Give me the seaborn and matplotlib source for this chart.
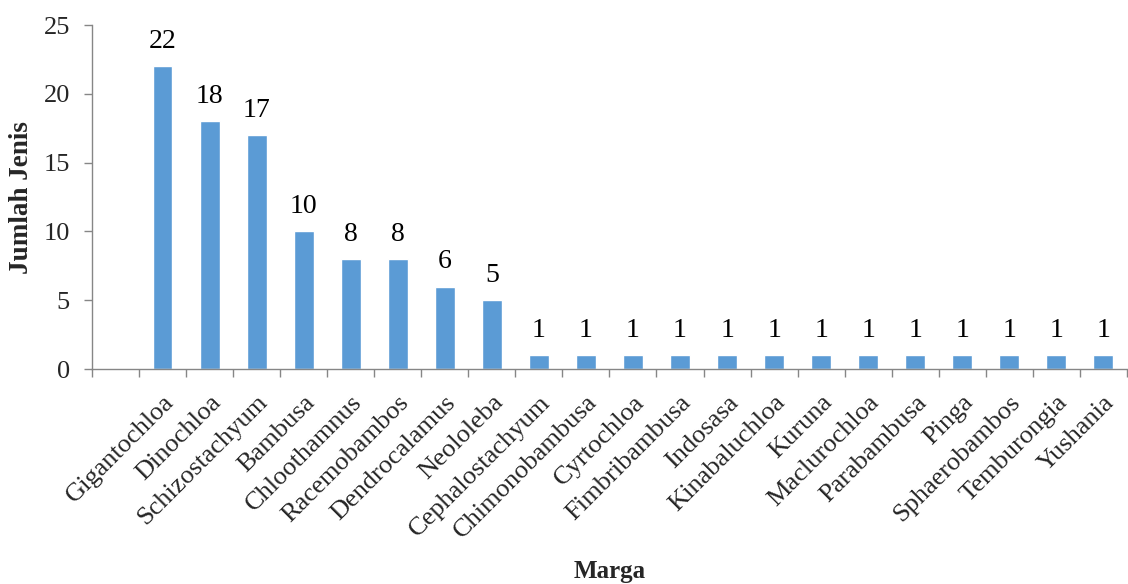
import matplotlib
matplotlib.use("Agg")
import matplotlib.pyplot as plt
import seaborn as sns
import pandas as pd
from matplotlib.ticker import FixedLocator

genera = ["Gigantochloa", "Dinochloa", "Schizostachyum", "Bambusa", "Chloothamnus",
          "Racemobambos", "Dendrocalamus", "Neololeba", "Cephalostachyum",
          "Chimonobambusa", "Cyrtochloa", "Fimbribambusa", "Indosasa",
          "Kinabaluchloa", "Kuruna", "Maclurochloa", "Parabambusa", "Pinga",
          "Sphaerobambos", "Temburongia", "Yushania"]
species_count = [22, 18, 17, 10, 8, 8, 6, 5, 1, 1, 1, 1, 1, 1, 1, 1, 1, 1, 1, 1, 1]
y_ticks = [0, 5, 10, 15, 20, 25]

df = pd.DataFrame({"Marga": genera, "Jumlah": species_count})

sns.set_style("white")
plt.rcParams["font.family"] = ["Liberation Serif", "DejaVu Serif"]

fig = plt.figure(figsize=(11.28, 5.84), dpi=100)
ax = fig.add_axes([0.0816, 0.368, 0.9174, 0.589])

sns.barplot(data=df, x="Marga", y="Jumlah", color="#5B9BD5", width=0.42,
            saturation=1, ax=ax)

n = len(genera)
ax.set_xlim(-1.5, n - 0.5)
ax.set_ylim(0, 25)
ax.set_yticks(y_ticks)

for i, v in enumerate(species_count):
    ax.annotate(str(v), (i, v), xytext=(0, 9), textcoords="offset points",
                ha="center", va="bottom", fontsize=20, color="black")

# category boundaries carry the tick marks; labels sit at bar centres
ax.xaxis.set_minor_locator(FixedLocator([k - 0.5 for k in range(-1, n + 1)]))
ax.tick_params(axis="x", which="major", length=0, pad=16)
ax.tick_params(axis="x", which="minor", length=6, width=1, color="#868686",
               direction="out", bottom=True)
ax.tick_params(axis="y", which="major", length=6, width=1, color="#868686",
               direction="out", left=True, labelsize=19, pad=10)
ax.set_xticks(range(n))
ax.set_xticklabels(genera, rotation=45, ha="right", va="top",
                   rotation_mode="anchor", fontsize=19)

for side in ["top", "right"]:
    ax.spines[side].set_visible(False)
for side in ["left", "bottom"]:
    ax.spines[side].set_color("#868686")
    ax.spines[side].set_linewidth(1)

ax.set_xlabel("Marga", fontsize=18, fontweight="bold")
ax.xaxis.set_label_coords(0.5, -0.555)
ax.set_ylabel("Jumlah Jenis", fontsize=19.5, fontweight="bold")
ax.yaxis.set_label_coords(-0.056, 0.5)

fig.savefig("out.png", dpi=100)
